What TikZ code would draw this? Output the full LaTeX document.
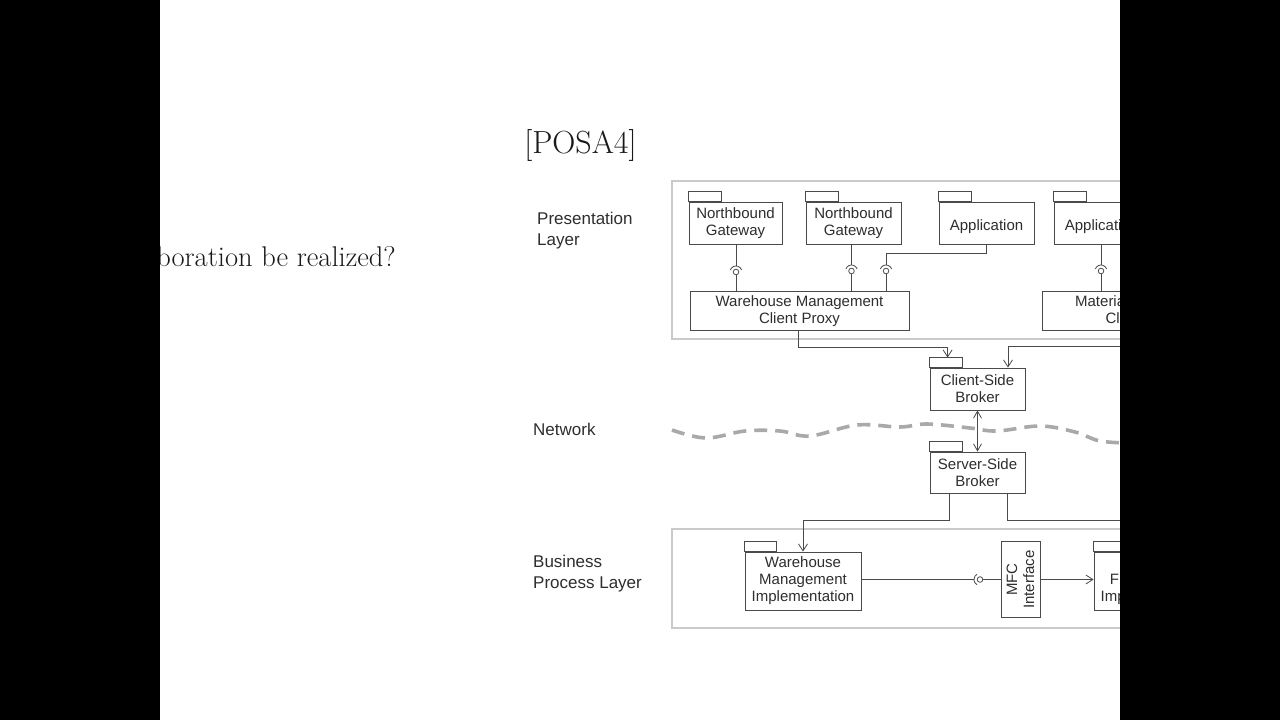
\documentclass[tikz,border=0pt]{standalone}
\usepackage{fontspec}
\newfontfamily\dsans{Liberation Sans}
\usetikzlibrary{arrows.meta,calc}
\definecolor{ln}{HTML}{4A4A4A}
\definecolor{txt}{HTML}{2E2E2E}
\definecolor{lay}{HTML}{CACACA}
\definecolor{wav}{HTML}{A9A9A9}
\newcommand{\sockv}[1]{\draw[conn,fill=white] (#1) circle[radius=2.8pt];
  \draw[conn] (#1) ++(160:6pt) arc[start angle=160,end angle=20,radius=6pt];}
\newcommand{\sockh}[1]{\draw[conn,fill=white] (#1) circle[radius=2.8pt];
  \draw[conn] (#1) ++(120:6pt) arc[start angle=120,end angle=240,radius=6pt];}
\begin{document}
\begin{tikzpicture}[x=1pt,y=-1pt,
  pkg/.style={draw=ln, line width=0.8pt, fill=white, inner sep=0pt, align=center,
    font=\dsans\fontsize{15}{17}\selectfont, text=txt},
  oneline/.style={text height=15.7pt, text depth=0pt},
  layerbox/.style={draw=lay, line width=2.3pt},
  lbl/.style={font=\dsans\fontsize{17}{21}\selectfont, text=txt, align=left, anchor=west, inner sep=0pt},
  conn/.style={draw=ln, line width=0.8pt},
  arr/.style={conn, -{Straight Barb[length=7pt,width=9pt]}},
  darr/.style={conn, {Straight Barb[length=7pt,width=8pt]}-{Straight Barb[length=7pt,width=8pt]}},
  wave/.style={draw=wav, line width=3.6pt, dash pattern=on 13pt off 8pt}]
\useasboundingbox (0,0) rectangle (1280,720);
\fill[white] (0,0) rectangle (1280,720);

% titles
\node[font=\fontsize{32}{36}\selectfont, text=black!90] (title) at (580.5,145) {[POSA4]};
\node[font=\fontsize{28.5}{32}\selectfont, text=black!90, anchor=east, inner sep=0pt] (question) at (396,257) {boration be realized?};

% layer labels
\node[lbl] (lpres) at (537,231) {Presentation\\Layer};
\node[lbl] (lnet) at (533,429) {Network};
\node[lbl] (lbus) at (533,574) {Business\\Process Layer};

% layer boxes
\draw[layerbox] (672,181) rectangle (1200,339);
\draw[layerbox] (672,529) rectangle (1200,628);

% network wave
\draw[wave] plot[smooth, tension=0.6] coordinates {(672,430) (706,438) (745,431) (780,431) (810,436) (857,425) (900,427) (927,424) (970,428) (997,431) (1040,426) (1075,432) (1100,441) (1130,443)};

% presentation layer packages
\node[pkg, minimum width=93pt, minimum height=42pt] (ng1) at (735.5,223) {Northbound\\Gateway};
\node[pkg, minimum width=95pt, minimum height=42pt] (ng2) at (853.5,223) {Northbound\\Gateway};
\node[pkg, oneline, align=none, minimum width=95pt, minimum height=42pt] (app1) at (986.5,223) {Application};
\node[pkg, oneline, align=none, minimum width=95pt, minimum height=42pt] (app2) at (1101.5,223) {Application};
\foreach \n in {ng1,ng2,app1,app2} \draw[conn] (\n.north west) rectangle ++(33,-10);

\node[pkg, minimum width=219pt, minimum height=39pt] (wmcp) at (799.5,311) {Warehouse Management\\Client Proxy};
\node[pkg, minimum width=208pt, minimum height=39pt] (mcp) at (1146,311) {Material Flow Control\\Client Proxy};

% brokers
\node[pkg, minimum width=95pt, minimum height=42pt] (csb) at (977.5,389) {Client-Side\\Broker};
\node[pkg, minimum width=95pt, minimum height=41pt] (ssb) at (977.5,472.5) {Server-Side\\Broker};
\foreach \n in {csb,ssb} \draw[conn] (\n.north west) rectangle ++(33,-10);

% business layer
\node[pkg, minimum width=116pt, minimum height=58pt] (wmi) at (803,581) {Warehouse\\Management\\Implementation};
\node[pkg, minimum width=76pt, minimum height=39pt, rotate=90] (mfc) at (1020.5,579.5) {MFC\\Interface};
\node[pkg, minimum width=116pt, minimum height=58pt] (mfi) at (1152,581) {Material\\Flow Control\\Implementation};
\foreach \n in {wmi,mfi} \draw[conn] (\n.north west) rectangle ++(32,-10);

% ball and socket positions
\coordinate (s1) at (736,272);
\coordinate (s2) at (851.5,271);
\coordinate (s3) at (886,271);
\coordinate (s4) at (1101,271);
\coordinate (s5) at (980,579.5);

% presentation connectors
\draw[conn] (s1 |- ng1.south) -- ($(s1)+(0,-6)$);
\draw[conn] ($(s1)+(0,2.8)$) -- (s1 |- wmcp.north);
\draw[conn] (s2 |- ng2.south) -- ($(s2)+(0,-6)$);
\draw[conn] ($(s2)+(0,2.8)$) -- (s2 |- wmcp.north);
\draw[conn] (app1.south) -- ++(0,9) -| ($(s3)+(0,-6)$);
\draw[conn] ($(s3)+(0,2.8)$) -- (s3 |- wmcp.north);
\draw[conn] (s4 |- app2.south) -- ($(s4)+(0,-6)$);
\draw[conn] ($(s4)+(0,2.8)$) -- (s4 |- mcp.north);
\foreach \s in {s1,s2,s3,s4} \sockv{\s};

% to client-side broker
\draw[arr] ($(wmcp.south)+(-1.5,0)$) -- ++(0,16) -| ($(csb.north west)+(18,-10)$);
\draw[arr] (mcp.south) -- ++(0,15) -| ($(csb.north)+(30.5,0)$);
\draw[darr] (csb.south) -- (ssb.north);

% from server-side broker
\draw[arr] ($(ssb.south)+(-28.5,0)$) -- ++(0,27) -| (wmi.north);
\draw[arr] ($(ssb.south)+(29.5,0)$) -- ++(0,27) -| ($(mfi.north)+(20,-10)$);

% business connectors
\draw[conn] (s5 -| wmi.east) -- ($(s5)+(-6,0)$);
\draw[conn] ($(s5)+(2.8,0)$) -- (mfc.north);
\sockh{s5}
\draw[arr] (mfc.south) -- (mfc.south -| mfi.west);

% black side bars
\fill[black] (0,0) rectangle (160,720);
\fill[black] (1120,0) rectangle (1280,720);
\end{tikzpicture}
\end{document}
